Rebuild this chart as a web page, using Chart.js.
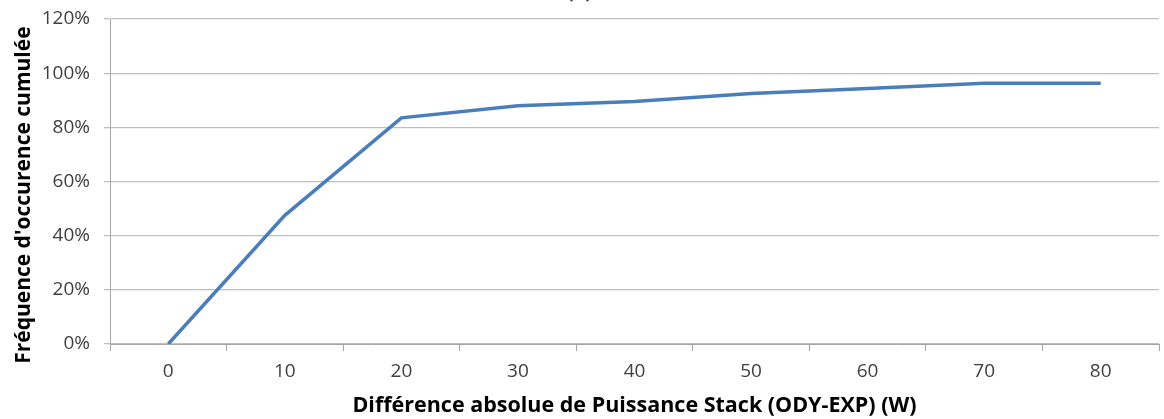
<!DOCTYPE html>
<html>
<head>
<meta charset="utf-8">
<script src="https://cdn.jsdelivr.net/npm/chart.js@4"></script>
<style>
  html, body { margin: 0; padding: 0; background: #fff; overflow: hidden; }
  #wrap { width: 1164px; height: 419px; overflow: hidden; position: relative; }
  #chart { position: absolute; left: 0; top: -21px; }
</style>
</head>
<body>
<div id="wrap"><canvas id="chart" width="1164" height="440"></canvas></div>
<script>
const ecarts = ['0', '10', '20', '30', '40', '50', '60', '70', '80'];
const frequenceCumulee = [0, 47.5, 83.5, 88, 89.5, 92.5, 94.3, 96.3, 96.3];
const yTicks = [0, 20, 40, 60, 80, 100, 120];

const tickFont = { family: 'Open Sans', size: 19 };
const titleFont = { family: 'Open Sans', size: 21.5, weight: 'bold' };

// trailing no-break spaces push the rotated y title a little lower
const yTitle = "Fréquence d'occurence cumulée" + '\u00a0'.repeat(5);

// eslint-disable-next-line no-undef
new Chart(document.getElementById('chart'), {
  type: 'line',
  data: {
    labels: ecarts,
    datasets: [
      {
        label: 'Fréquence cumulée',
        data: frequenceCumulee,
        borderColor: '#4a7ebb',
        borderWidth: 3.5,
        pointRadius: 0,
        tension: 0,
        fill: false,
      },
    ],
  },
  options: {
    responsive: false,
    animation: false,
    layout: { padding: { left: 0, right: 5, top: 0, bottom: 0 } },
    plugins: {
      legend: { display: false },
      tooltip: { enabled: false },
      title: {
        display: true,
        text: '(a)',
        color: '#404040',
        font: { family: 'Open Sans', size: 19 },
        padding: { top: 2, bottom: 15.2 },
      },
    },
    scales: {
      x: {
        offset: true,
        grid: {
          offset: true,
          drawOnChartArea: false,
          drawTicks: true,
          tickLength: 7,
          color: '#a6a6a6',
        },
        border: { color: '#a6a6a6', width: 1 },
        ticks: { color: '#404040', font: tickFont, padding: 9, maxRotation: 0 },
        title: {
          display: true,
          text: 'Différence absolue de Puissance Stack (ODY-EXP) (W)',
          color: '#000',
          font: titleFont,
          padding: { top: 0, bottom: 0 },
        },
        afterFit(scale) { scale.height = 75; },
      },
      y: {
        min: 0,
        max: 120,
        afterBuildTicks(scale) { scale.ticks = yTicks.map((v) => ({ value: v })); },
        grid: { color: '#bfbfbf', tickLength: 6, lineWidth: 1.3 },
        border: { color: '#a6a6a6', width: 1 },
        ticks: {
          color: '#404040',
          font: tickFont,
          padding: 14,
          callback: (v) => v + '%',
        },
        title: {
          display: true,
          text: yTitle,
          color: '#000',
          font: { family: 'Open Sans', size: 21, weight: 'bold' },
          padding: { top: 11, bottom: 4 },
        },
        afterFit(scale) { scale.width = 110; },
      },
    },
  },
});
</script>
</body>
</html>
